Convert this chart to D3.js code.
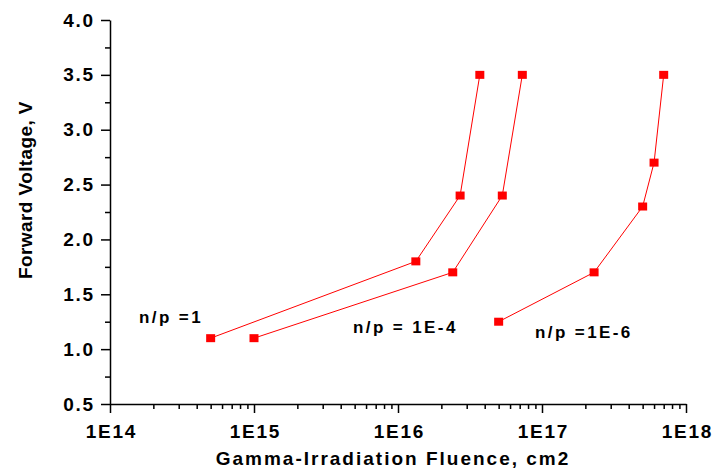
<!DOCTYPE html>
<html>
<head>
<meta charset="utf-8">
<script src="https://cdn.jsdelivr.net/npm/d3@7"></script>
<style>
  body { margin: 0; background: #fff; }
  text { font-family: "Liberation Sans", Arial, sans-serif; font-weight: bold; }
</style>
</head>
<body>
<div id="chart"></div>
<script>
// fluence (cm-2) vs forward voltage (V), three doping ratios
var seriesNames = ["n/p =1", "n/p = 1E-4", "n/p =1E-6"];
var fluence1 = [5e14, 1.33e16, 2.7e16, 3.7e16];
var voltage1 = [1.1, 1.8, 2.4, 3.5];
var fluence2 = [1e15, 2.4e16, 5.3e16, 7.3e16];
var voltage2 = [1.1, 1.7, 2.4, 3.5];
var fluence3 = [5e16, 2.3e17, 5e17, 6e17, 7e17];
var voltage3 = [1.25, 1.7, 2.3, 2.7, 3.5];
var xTickLabels = ["1E14", "1E15", "1E16", "1E17", "1E18"];
var yTicks = [0.5, 1.0, 1.5, 2.0, 2.5, 3.0, 3.5, 4.0];

var W = 713, H = 473;
var margin = {top: 20, right: 27, bottom: 69, left: 110};
var width = W - margin.left - margin.right,
    height = H - margin.top - margin.bottom;

var svg = d3.select("#chart").append("svg")
    .attr("width", W)
    .attr("height", H)
  .append("g")
    .attr("transform", "translate(" + margin.left + "," + margin.top + ")");

var x = d3.scaleLog().domain([1e14, 1e18]).range([0, width]);
var y = d3.scaleLinear().domain([0.5, 4.0]).range([height, 0]);

// minor ticks
var xMinor = [];
for (var e = 14; e < 18; e++) for (var m = 2; m <= 9; m++) xMinor.push(m * Math.pow(10, e));
var yMinor = yTicks.slice(0, -1).map(function(v) { return v + 0.25; });

svg.append("g")
    .attr("class", "xaxis")
    .attr("transform", "translate(0," + height + ")")
    .call(d3.axisBottom(x).tickValues(xTickLabels.map(Number)).tickFormat(function(d, i) { return xTickLabels[i]; })
      .tickSize(9).tickSizeOuter(0).tickPadding(12));
svg.append("g")
    .attr("transform", "translate(0," + height + ")")
    .call(d3.axisBottom(x).tickValues(xMinor).tickFormat("").tickSize(5).tickSizeOuter(0))
    .select(".domain").remove();

svg.append("g")
    .attr("class", "yaxis")
    .call(d3.axisLeft(y).tickValues(yTicks).tickFormat(d3.format(".1f"))
      .tickSize(9).tickSizeOuter(0).tickPadding(6));
svg.append("g")
    .call(d3.axisLeft(y).tickValues(yMinor).tickFormat("").tickSize(5).tickSizeOuter(0))
    .select(".domain").remove();

svg.selectAll(".domain, .tick line").attr("stroke", "#000").attr("stroke-width", 1.5);
svg.selectAll(".tick text")
    .attr("fill", "#000")
    .style("font-size", "19px")
    .style("letter-spacing", "1.8px");
svg.selectAll(".xaxis .tick text").attr("dx", "0.9px");

// axis titles
svg.append("text")
    .attr("x", 393 - margin.left)
    .attr("y", height + 61)
    .attr("text-anchor", "middle")
    .style("font-size", "19px")
    .style("letter-spacing", "2px")
    .text("Gamma-Irradiation Fluence, cm2");

svg.append("text")
    .attr("transform", "translate(" + (32 - margin.left) + "," + (190 - margin.top) + ") rotate(-90)")
    .attr("text-anchor", "middle")
    .style("font-size", "19px")
    .style("letter-spacing", "0.4px")
    .text("Forward Voltage, V");

// series
var series = [
  {name: seriesNames[0], xs: fluence1, ys: voltage1},
  {name: seriesNames[1], xs: fluence2, ys: voltage2},
  {name: seriesNames[2], xs: fluence3, ys: voltage3}
];

var line = d3.line()
    .x(function(d) { return x(d[0]); })
    .y(function(d) { return y(d[1]); });

series.forEach(function(s) {
  var pts = s.xs.map(function(v, i) { return [v, s.ys[i]]; });
  svg.append("path")
      .datum(pts)
      .attr("fill", "none")
      .attr("stroke", "#ff0000")
      .attr("stroke-width", 1)
      .attr("d", line);
  svg.append("g")
    .selectAll("rect")
    .data(pts)
    .enter()
    .append("rect")
      .attr("x", function(d) { return x(d[0]) - 4.5; })
      .attr("y", function(d) { return y(d[1]) - 4; })
      .attr("width", 9)
      .attr("height", 8)
      .attr("fill", "#ff0000");
});

// series labels
var labelPos = [[29, 302.5], [243, 313], [425, 318]];
series.forEach(function(s, i) {
  svg.append("text")
      .attr("x", labelPos[i][0])
      .attr("y", labelPos[i][1])
      .style("font-size", "17px")
      .style("letter-spacing", "2.4px")
      .text(s.name);
});
</script>
</body>
</html>
